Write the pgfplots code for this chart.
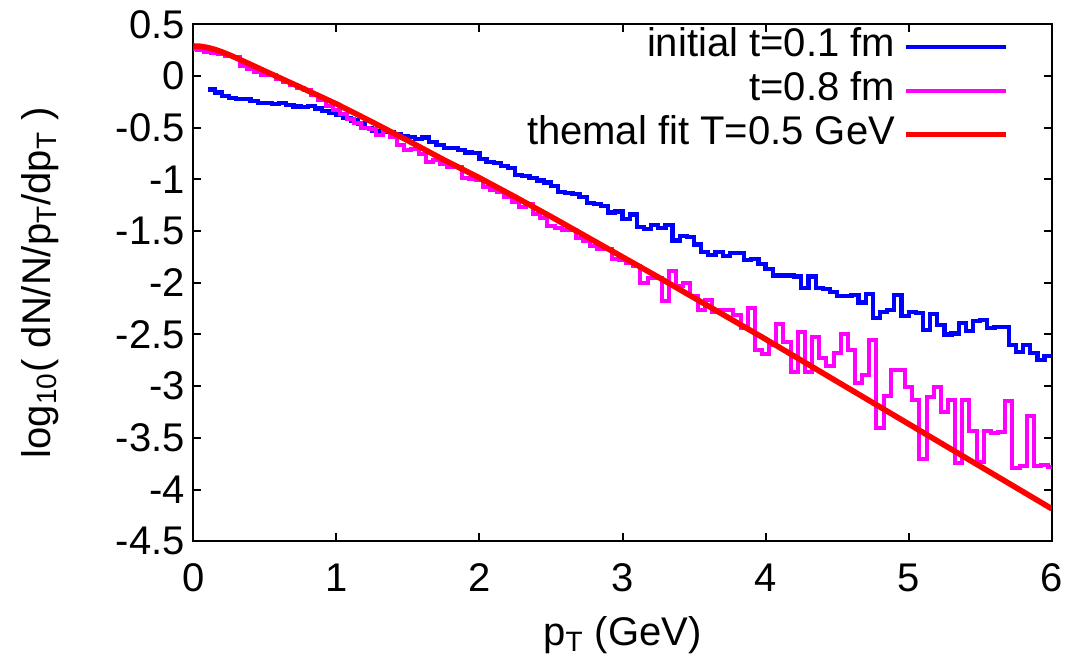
\documentclass[border=0pt]{standalone}
\usepackage{fontspec}
\setmainfont{Liberation Sans}
\usepackage{pgfplots}
\pgfplotsset{compat=1.18}
\usepackage{pgfplotstable}

\definecolor{cblue}{RGB}{0,0,255}
\definecolor{cmag}{RGB}{255,0,255}
\definecolor{cred}{RGB}{255,0,0}

% initial t=0.1 fm : left bin edges
\pgfplotstableread{
x y
0.10 -0.13
0.15 -0.16
0.20 -0.19
0.25 -0.21
0.30 -0.225
0.35 -0.22
0.40 -0.245
0.45 -0.26
0.50 -0.265
0.55 -0.27
0.60 -0.265
0.65 -0.28
0.70 -0.295
0.75 -0.30
0.80 -0.29
0.85 -0.315
0.90 -0.34
0.95 -0.355
1.00 -0.375
1.05 -0.41
1.10 -0.43
1.15 -0.46
1.20 -0.50
1.25 -0.53
1.30 -0.535
1.35 -0.54
1.40 -0.56
1.45 -0.58
1.50 -0.59
1.55 -0.61
1.60 -0.595
1.65 -0.635
1.70 -0.665
1.75 -0.70
1.80 -0.70
1.85 -0.715
1.90 -0.74
1.95 -0.745
2.00 -0.80
2.05 -0.83
2.10 -0.845
2.15 -0.87
2.20 -0.89
2.25 -0.955
2.30 -0.965
2.35 -0.99
2.40 -1.01
2.45 -1.03
2.50 -1.06
2.55 -1.12
2.60 -1.13
2.65 -1.14
2.70 -1.17
2.75 -1.225
2.80 -1.235
2.85 -1.26
2.90 -1.32
2.95 -1.31
3.00 -1.38
3.05 -1.34
3.10 -1.46
3.15 -1.48
3.20 -1.44
3.25 -1.47
3.30 -1.44
3.35 -1.59
3.40 -1.55
3.45 -1.56
3.50 -1.63
3.55 -1.70
3.60 -1.73
3.65 -1.70
3.70 -1.74
3.75 -1.71
3.80 -1.71
3.85 -1.78
3.90 -1.77
3.95 -1.82
4.00 -1.87
4.05 -1.93
4.10 -1.93
4.15 -1.93
4.20 -1.94
4.25 -2.05
4.30 -1.94
4.35 -2.05
4.40 -2.06
4.45 -2.09
4.50 -2.13
4.55 -2.13
4.60 -2.12
4.65 -2.19
4.70 -2.11
4.75 -2.34
4.80 -2.28
4.85 -2.26
4.90 -2.12
4.95 -2.32
5.00 -2.28
5.05 -2.29
5.10 -2.46
5.15 -2.30
5.20 -2.41
5.25 -2.50
5.30 -2.49
5.35 -2.39
5.40 -2.47
5.45 -2.37
5.50 -2.36
5.55 -2.44
5.60 -2.43
5.65 -2.43
5.70 -2.60
5.75 -2.67
5.80 -2.60
5.85 -2.68
5.90 -2.75
5.95 -2.71
6.00 -2.71
}\bluedata

% t=0.8 fm : bin centres
\pgfplotstableread{
x y
0.00 0.26
0.05 0.25
0.10 0.235
0.15 0.22
0.20 0.21
0.25 0.19
0.30 0.18
0.35 0.10
0.40 0.07
0.45 0.04
0.50 0.01
0.55 0.005
0.60 -0.03
0.65 -0.06
0.70 -0.09
0.75 -0.12
0.80 -0.14
0.85 -0.18
0.90 -0.23
0.95 -0.29
1.00 -0.33
1.05 -0.37
1.10 -0.42
1.15 -0.45
1.20 -0.50
1.25 -0.51
1.30 -0.57
1.35 -0.53
1.40 -0.59
1.45 -0.67
1.50 -0.715
1.55 -0.71
1.60 -0.75
1.65 -0.83
1.70 -0.81
1.75 -0.85
1.80 -0.88
1.85 -0.88
1.90 -0.99
1.95 -1.00
2.00 -1.01
2.05 -1.07
2.10 -1.10
2.15 -1.12
2.20 -1.17
2.25 -1.22
2.30 -1.27
2.35 -1.24
2.40 -1.33
2.45 -1.37
2.50 -1.45
2.55 -1.47
2.60 -1.49
2.65 -1.49
2.70 -1.57
2.75 -1.60
2.80 -1.64
2.85 -1.67
2.90 -1.67
2.95 -1.77
3.00 -1.78
3.05 -1.81
3.10 -1.84
3.15 -2.00
3.20 -1.95
3.25 -1.95
3.30 -2.18
3.35 -1.89
3.40 -2.03
3.45 -2.00
3.50 -2.13
3.55 -2.26
3.60 -2.17
3.65 -2.28
3.70 -2.26
3.75 -2.26
3.80 -2.31
3.85 -2.44
3.90 -2.24
3.95 -2.65
4.00 -2.69
4.05 -2.60
4.10 -2.40
4.15 -2.57
4.20 -2.86
4.25 -2.48
4.30 -2.86
4.35 -2.52
4.40 -2.73
4.45 -2.80
4.50 -2.68
4.55 -2.50
4.60 -2.65
4.65 -2.97
4.70 -2.89
4.75 -2.55
4.80 -3.40
4.85 -3.09
4.90 -2.84
4.95 -2.84
5.00 -3.01
5.05 -3.13
5.10 -3.70
5.15 -3.10
5.20 -3.01
5.25 -3.25
5.30 -3.13
5.35 -3.74
5.40 -3.13
5.45 -3.43
5.50 -3.73
5.55 -3.43
5.60 -3.45
5.65 -3.44
5.70 -3.14
5.75 -3.79
5.80 -3.77
5.85 -3.29
5.90 -3.77
5.95 -3.76
6.00 -3.78
}\magdata

% thermal fit
\pgfplotstableread{
x y
0.00 0.290
0.05 0.287
0.10 0.275
0.15 0.257
0.20 0.233
0.25 0.205
0.30 0.175
0.40 0.112
0.50 0.048
0.60 -0.015
0.70 -0.078
0.80 -0.142
0.90 -0.206
1.00 -0.270
1.25 -0.445
1.50 -0.625
1.75 -0.810
2.00 -0.985
2.25 -1.170
2.50 -1.360
2.75 -1.555
3.00 -1.750
3.25 -1.945
3.50 -2.145
3.75 -2.345
4.00 -2.545
4.25 -2.750
4.50 -2.955
4.75 -3.160
5.00 -3.365
5.25 -3.570
5.50 -3.775
5.75 -3.980
6.00 -4.185
}\reddata

\begin{document}
\begin{tikzpicture}
\begin{axis}[
  scale only axis,
  width=429.2pt, height=258.5pt,
  xmin=0, xmax=6, ymin=-4.5, ymax=0.5,
  xtick={0,1,2,3,4,5,6},
  xticklabels={0,1,2,3,4,5,6},
  ytick={-4.5,-4,-3.5,-3,-2.5,-2,-1.5,-1,-0.5,0,0.5},
  yticklabels={-4.5,-4,-3.5,-3,-2.5,-2,-1.5,-1,-0.5,0,0.5},
  tick align=inside,
  major tick length=4pt,
  every tick/.style={black, line width=1pt},
  axis line style={black, line width=1pt},
  tick label style={font=\fontsize{20}{24}\selectfont},
  yticklabel style={inner sep=0pt, xshift=-4pt},
  xticklabel style={inner sep=0pt, yshift=-11pt},
  label style={font=\fontsize{20}{24}\selectfont},
  xlabel={p\textsubscript{T} (GeV)},
  ylabel={log\textsubscript{10}( dN/N/p\textsubscript{T}/dp\textsubscript{T} )},
  xlabel style={at={(rel axis cs:0.5,-0.1812)}, anchor=center},
  ylabel style={at={(rel axis cs:-0.1786,0.5)}, anchor=center},
  legend style={draw=none, fill=none, at={(rel axis cs:1,1)}, anchor=north east,
    xshift=-21.35pt, yshift=0pt, inner sep=0pt, row sep=0pt, column sep=2pt,
    nodes={inner sep=2pt, text height=14pt, text depth=4pt},
    font=\fontsize{20}{24}\selectfont},
  legend cell align=right,
  legend plot pos=right,
  legend image code/.code={\draw[#1] (0pt,0pt) -- (50pt,0pt);},
]
\addplot[cblue, line width=2.1pt, const plot mark left] table[x=x,y=y] {\bluedata};
\addlegendentry{initial t=0.1 fm}
\addplot[cmag, line width=2.0pt, const plot mark mid] table[x=x,y=y] {\magdata};
\addlegendentry{t=0.8 fm}
\addplot[cred, line width=2.8pt] table[x=x,y=y] {\reddata};
\addlegendentry{themal fit T=0.5 GeV}
\end{axis}
\path ([xshift=-96.65pt,yshift=-61.35pt]current axis.south west) rectangle ([xshift=9.15pt,yshift=12.15pt]current axis.north east);
\end{tikzpicture}
\end{document}
